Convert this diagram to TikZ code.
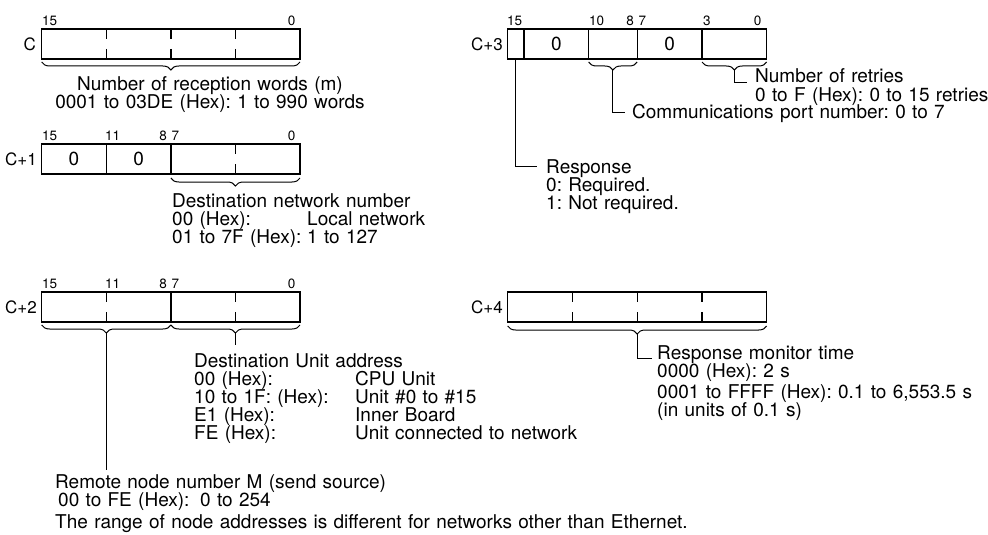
\documentclass[tikz,border=0pt]{standalone}
\usepackage{fontspec}
\setmainfont{TeX Gyre Heros}
\usetikzlibrary{decorations.pathreplacing}
\newcommand\txtfont{\fontsize{19}{18}\selectfont\frenchspacing}
\newcommand\bitfont{\fontsize{13.5}{14}\selectfont}
\newcommand\regfont{\fontsize{17}{17}\selectfont}
\begin{document}
\begin{tikzpicture}[
	x=1pt, y=-1pt,
	field/.style={draw, line width=1.3pt, minimum height=30pt, inner sep=0pt, font=\txtfont},
	reg/.style={anchor=east, inner sep=0pt, font=\regfont},
	bitno/.style={anchor=base west, inner sep=0pt, font=\bitfont},
	txt/.style={anchor=base west, inner sep=0pt, font=\txtfont, text width=420pt, align=left},
	tick/.style={line width=1.3pt},
	brc/.style={decorate, decoration={brace, mirror, amplitude=8pt}, line width=1pt},
	wire/.style={line width=1pt}
	]
	\useasboundingbox (0,0) rectangle (988,535);

	% Word C
	\node[reg] (rc) at (36,44) {C};
	\node[field, minimum width=258.3pt] (wc) at (170.85,44) {};
	\node[bitno] (bc15) at (42,26) {15};
	\node[bitno, anchor=base east] (bc0) at (295.5,26) {0};
	\foreach \x in {106.3,170.9,235.5}
		\draw[tick] (\x,29) -- (\x,39) (\x,49) -- (\x,59);
	\draw[brc] (41.7,62) -- (300,62);
	\node[txt, text width=340pt, align=center, anchor=base] (recv) at (210,90)
		{Number of reception words (m)\\0001 to 03DE (Hex): 1 to 990 words};

	% Word C+1
	\node[reg] (rc1) at (37,159) {C+1};
	\node[field, minimum width=64.6pt] (c1a) at (74,159) {0};
	\node[field, minimum width=64.6pt] (c1b) at (138.6,159) {0};
	\node[field, minimum width=129.1pt] (c1c) at (235.45,159) {};
	\node[bitno] (bc115) at (42,140.5) {15};
	\node[bitno] (bc111) at (105,140.5) {11};
	\node[bitno, anchor=base east] (bc18) at (167,140.5) {8};
	\node[bitno] (bc17) at (171.5,140.5) {7};
	\node[bitno, anchor=base east] (bc10) at (295.5,140.5) {0};
	\draw[tick] (235.5,144) -- (235.5,154) (235.5,164) -- (235.5,174);
	\draw[brc] (170.9,178) -- (300,178);
	\node[txt] (netno) at (172,207) {Destination network number\\
		\makebox[135pt][l]{00 (Hex):}Local network\\
		\makebox[135pt][l]{01 to 7F (Hex):}1 to 127};

	% Word C+2
	\node[reg] (rc2) at (37,307) {C+2};
	\node[field, minimum width=129.2pt] (c2a) at (106.3,307) {};
	\node[field, minimum width=129.1pt] (c2b) at (235.45,307) {};
	\node[bitno] (bc215) at (42,288) {15};
	\node[bitno] (bc211) at (105,288) {11};
	\node[bitno, anchor=base east] (bc28) at (167,288) {8};
	\node[bitno] (bc27) at (171.5,288) {7};
	\node[bitno, anchor=base east] (bc20) at (295.5,288) {0};
	\foreach \x in {106.3,235.5}
		\draw[tick] (\x,292) -- (\x,302) (\x,312) -- (\x,322);
	\draw[brc] (41.7,325) -- (170.9,325);
	\draw[brc] (170.9,325) -- (300,325);
	\coordinate (remtip) at (106.3,333);
	\coordinate (remend) at (106.3,470);
	\coordinate (unittip) at (235.5,333);
	\coordinate (unitend) at (235.5,345);
	\node[txt] (unit) at (194,367) {Destination Unit address\\
		\makebox[161pt][l]{00 (Hex):}CPU Unit\\
		\makebox[161pt][l]{10 to 1F: (Hex):}Unit \#0 to \#15\\
		\makebox[161pt][l]{E1 (Hex):}Inner Board\\
		\makebox[161pt][l]{FE (Hex):}Unit connected to network};
	\node[txt] (remote) at (55,488) {Remote node number M (send source)\\
		\hspace*{3pt}\makebox[142pt][l]{00 to FE (Hex):}0 to 254};
	\node[txt, text width=800pt] (note) at (55,528)
		{The range of node addresses is different for networks other than Ethernet.};

	% Word C+3
	\node[reg] (rc3) at (503,44) {C+3};
	\node[field, minimum width=16.19pt] (f15) at (515.8,44) {};
	\node[field, minimum width=64.76pt] (f14) at (556.3,44) {0};
	\node[field, minimum width=48.57pt] (f10) at (612.9,44) {};
	\node[field, minimum width=64.76pt] (f7) at (669.6,44) {0};
	\node[field, minimum width=64.76pt] (f3) at (734.35,44) {};
	\node[bitno] (bc315) at (507,26) {15};
	\node[bitno] (bc310) at (589,26) {10};
	\node[bitno, anchor=base east] (bc38) at (634,26) {8};
	\node[bitno] (bc37) at (638.5,26) {7};
	\node[bitno] (bc33) at (703,26) {3};
	\node[bitno, anchor=base east] (bc30) at (761.5,26) {0};
	\draw[brc] (588.65,62) -- (637.2,62);
	\draw[brc] (702,62) -- (766.7,62);
	\coordinate (porttip) at (612.9,70);
	\coordinate (portend) at (625,112);
	\coordinate (retrytip) at (734.35,70);
	\coordinate (retryend) at (747,83);
	\coordinate (respend) at (537,166.5);
	\node[txt] (retry) at (755,83) {Number of retries\\0 to F (Hex): 0 to 15 retries};
	\node[txt] (port) at (632,118.5) {Communications port number: 0 to 7};
	\node[txt] (resp) at (546,173) {Response\\0: Required.\\1: Not required.};

	% Word C+4
	\node[reg] (rc4) at (503,307) {C+4};
	\node[field, minimum width=259pt] (c4) at (637.2,307) {};
	\foreach \x in {572.5,637.2,702}
		\draw[tick] (\x,292) -- (\x,302) (\x,312) -- (\x,322);
	\draw[brc] (507.7,326) -- (766.7,326);
	\coordinate (montip) at (637.2,334);
	\coordinate (monend) at (651.7,358);
	\node[txt] (mon) at (657,359) {Response monitor time\\0000 (Hex): 2 s\\[3pt]
		0001 to FFFF (Hex): 0.1 to 6,553.5 s\\(in units of 0.1 s)};

	% Leader lines
	\draw[wire] (remtip) -- (remend);
	\draw[wire] (unittip) -- (unitend);
	\draw[wire] (f15.south) |- (respend);
	\draw[wire] (porttip) |- (portend);
	\draw[wire] (retrytip) |- (retryend);
	\draw[wire] (montip) |- (monend);
\end{tikzpicture}
\end{document}
